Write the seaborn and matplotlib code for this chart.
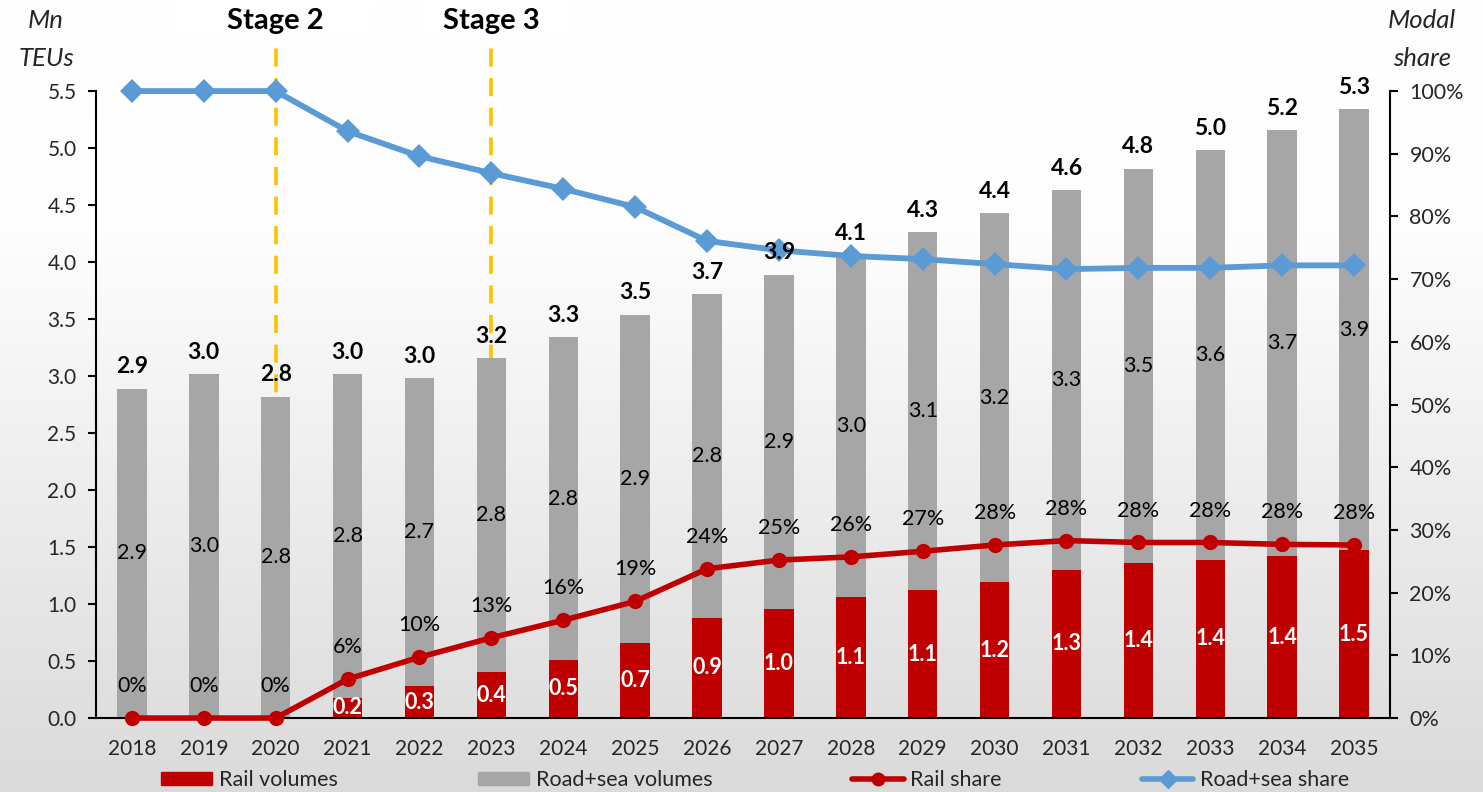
import numpy as np
import pandas as pd
import seaborn as sns
import matplotlib
matplotlib.use("Agg")
from matplotlib import pyplot as plt
from matplotlib.colors import LinearSegmentedColormap
from matplotlib.lines import Line2D
from matplotlib.patches import Patch, Rectangle

# data
years = [str(y) for y in range(2018, 2036)]
rail_volumes = [0, 0, 0, 0.18, 0.28, 0.40, 0.51, 0.66, 0.88, 0.96,
                1.06, 1.12, 1.19, 1.30, 1.36, 1.39, 1.42, 1.47]
road_sea_volumes = [2.89, 3.02, 2.82, 2.84, 2.70, 2.76, 2.83, 2.88, 2.84, 2.93,
                    3.00, 3.14, 3.24, 3.33, 3.46, 3.59, 3.74, 3.87]
rail_share = [0, 0, 0, 6.2, 9.7, 12.8, 15.6, 18.6, 23.8, 25.2,
              25.7, 26.6, 27.6, 28.3, 28.0, 28.0, 27.7, 27.6]
road_sea_share = [100, 100, 100, 93.6, 89.6, 86.9, 84.4, 81.5, 76.1, 74.6,
                  73.7, 73.2, 72.4, 71.6, 71.8, 71.8, 72.2, 72.2]
stage_labels = ["Stage 2", "Stage 3"]
stage_years = ["2020", "2023"]

RED = "#C00000"
GREY = "#A6A6A6"
BLUE = "#5B9BD5"
GOLD = "#FFC000"

df = pd.DataFrame({"year": years, "rail": rail_volumes, "road": road_sea_volumes,
                   "rail_share": rail_share, "road_share": road_sea_share})
df["total"] = df["rail"] + df["road"]
df["pos"] = np.arange(len(df))

sns.set_theme(style="white")
plt.rcParams["font.family"] = ["Lato", "DejaVu Sans"]

fig = plt.figure(figsize=(14.83, 7.92), dpi=100)

# background gradient
bg = fig.add_axes([0, 0, 1, 1], zorder=-10)
grad = np.linspace(0, 1, 256).reshape(-1, 1)
bg_cmap = LinearSegmentedColormap.from_list(
    "bg", [(0, "#ffffff"), (0.3, "#fdfdfd"), (1, "#dadada")])
bg.imshow(grad, aspect="auto", cmap=bg_cmap, extent=[0, 1, 0, 1])
bg.axis("off")

ax = fig.add_axes([0.0647, 0.0934, 0.8726, 0.7916])
ax.patch.set_alpha(0)

sns.barplot(data=df, x="year", y="total", color=GREY, width=0.41,
            saturation=1, linewidth=0, ax=ax, zorder=2)
sns.barplot(data=df, x="year", y="rail", color=RED, width=0.41,
            saturation=1, linewidth=0, ax=ax, zorder=2)

ax.set_xlim(-0.5, len(years) - 0.5)
ax.set_ylim(0, 5.5)
ax.set_yticks(np.arange(0, 5.51, 0.5))
ax.set_yticklabels([f"{v:.1f}" for v in np.arange(0, 5.51, 0.5)], fontsize=15)
ax.set_xticks(np.arange(-0.5, len(years), 1))
ax.set_xticklabels([])
ax.set_xticks(df["pos"], minor=True)
ax.set_xticklabels(years, minor=True, fontsize=15)
ax.tick_params(axis="x", which="major", direction="out", length=7, width=1.5, color="black")
ax.tick_params(axis="x", which="minor", length=0, pad=15)
ax.tick_params(axis="y", direction="out", length=6, width=1.5, color="black", pad=8)
ax.set_xlabel("")
ax.set_ylabel("")
for side in ["top", "right"]:
    ax.spines[side].set_visible(False)
for side in ["left", "bottom"]:
    ax.spines[side].set_color("black")
    ax.spines[side].set_linewidth(1.5)

# stage markers
xform = ax.get_xaxis_transform()
stage_boxes = [(178, 195), (422, 146)]
for lab, yr, (bx, bw) in zip(stage_labels, stage_years, stage_boxes):
    xi = years.index(yr)
    ax.axvline(xi, ymin=0, ymax=1.077, color=GOLD, lw=2.6, ls=(0, (5, 3.2)),
               clip_on=False, zorder=1)
    fig.patches.append(Rectangle((bx / 1483, 1 - 34 / 792), bw / 1483, 34 / 792,
                                 transform=fig.transFigure, facecolor="white",
                                 edgecolor="none", zorder=-5))
    ax.text(xi, 1.112, lab, transform=xform, ha="center", va="center",
            fontsize=21, fontweight="bold", color="black")

# segment labels
for _, r in df.iterrows():
    ax.text(r.pos, r.rail + r.road / 2, f"{r.road:.1f}", ha="center", va="center",
            fontsize=15.5, color="black", zorder=5)
    if r.rail > 0:
        ax.text(r.pos, r.rail / 2, f"{r.rail:.1f}", ha="center", va="center",
                fontsize=15.5, fontweight="bold", color="white", zorder=5)

# shares on the right axis
ax2 = ax.twinx()
sns.lineplot(data=df, x="pos", y="road_share", ax=ax2, color=BLUE, lw=4.2,
             marker="D", markersize=12.5, markeredgewidth=0, sort=False)
sns.lineplot(data=df, x="pos", y="rail_share", ax=ax2, color=RED, lw=4,
             marker="o", markersize=11, markeredgewidth=0, sort=False)
for line in ax2.lines:
    line.set_clip_on(False)
for _, r in df.iterrows():
    ax2.annotate(f"{r.rail_share:.0f}%", (r.pos, r.rail_share), xytext=(0, 23),
                 textcoords="offset points", ha="center", va="center",
                 fontsize=15.5, color="black")
    # totals sit on top of the share lines
    ax2.annotate(f"{r.total:.1f}", (r.pos, r.total), xycoords=ax.transData,
                 xytext=(0, 8), textcoords="offset points", ha="center", va="bottom",
                 fontsize=16.5, fontweight="bold", color="black", zorder=5)
ax2.set_ylim(0, 100)
ax2.set_yticks(np.arange(0, 101, 10))
ax2.set_yticklabels([f"{v}%" for v in range(0, 101, 10)], fontsize=15.5)
ax2.tick_params(axis="y", direction="out", length=6, width=1.5, color="black", pad=8)
ax2.set_xlabel("")
ax2.set_ylabel("")
for side in ["top", "left", "bottom"]:
    ax2.spines[side].set_visible(False)
ax2.spines["right"].set_color("black")
ax2.spines["right"].set_linewidth(1.5)
ax.set_xlim(-0.5, len(years) - 0.5)

# axis titles
fig.text(46 / 1483, 1 - 21 / 792, "Mn", fontsize=18.5, style="italic", ha="center", va="center")
fig.text(46 / 1483, 1 - 59 / 792, "TEUs", fontsize=18.5, style="italic", ha="center", va="center")
fig.text(1422 / 1483, 1 - 21 / 792, "Modal", fontsize=18.5, style="italic", ha="center", va="center")
fig.text(1422 / 1483, 1 - 59 / 792, "share", fontsize=18.5, style="italic", ha="center", va="center")

handles = [Patch(color=RED), Patch(color=GREY),
           Line2D([], [], color=RED, lw=4, marker="o", markersize=9),
           Line2D([], [], color=BLUE, lw=4, marker="D", markersize=9)]
fig.legend(handles, ["Rail volumes", "Road+sea volumes", "Rail share", "Road+sea share"],
           loc="center", bbox_to_anchor=(0.509, 1 - 780 / 792), ncol=4, frameon=False,
           fontsize=15.5, handlelength=2.4, handleheight=0.6, handletextpad=0.3,
           columnspacing=6.5, borderpad=0)

fig.savefig("out.png", dpi=100)
